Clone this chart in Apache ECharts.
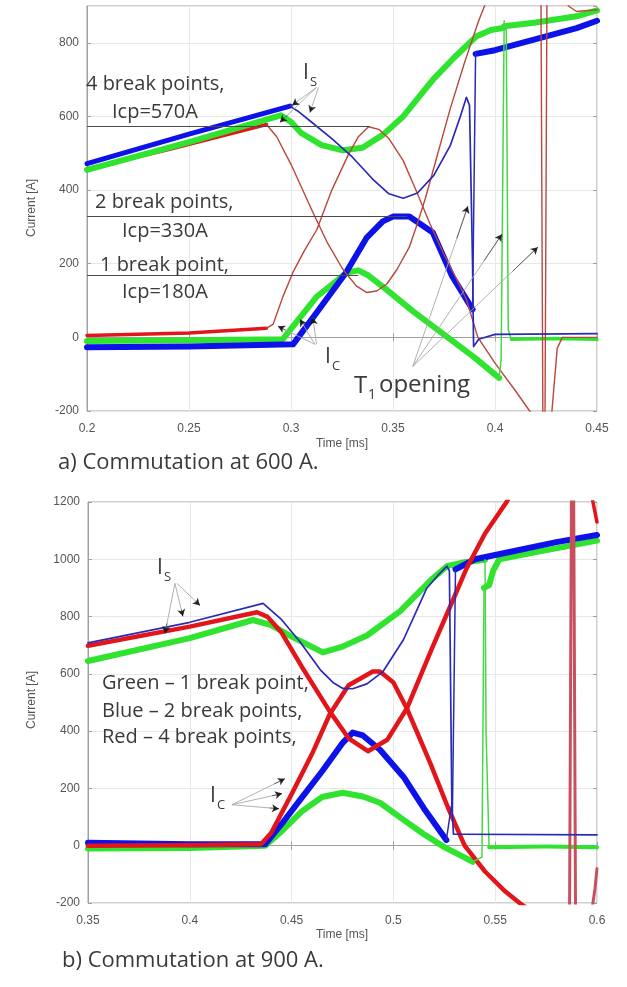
<!DOCTYPE html>
<html>
<head>
<meta charset="utf-8">
<script src="https://cdn.jsdelivr.net/npm/echarts@6/dist/echarts.min.js"></script>
<style>
html, body { margin: 0; padding: 0; background: #fff; }
#chart { width: 627px; height: 987px; }
</style>
</head>
<body>
<div id="chart"></div>
<script>
// ---------- (a) commutation at 600 A : [time ms, current A] ----------
const aRedSLeft = [[0.2, 458], [0.24, 510], [0.288, 578]];
const aRedS = [[0.288, 578], [0.293, 545], [0.3, 470], [0.3107, 340], [0.318, 255], [0.3254, 185], [0.332, 140], [0.337, 122], [0.342, 126], [0.347, 145], [0.352, 185], [0.358, 245], [0.362, 310], [0.366, 380], [0.372, 500], [0.378, 620], [0.385, 745], [0.392, 860], [0.397, 930], [0.4, 960], [0.4225, 960], [0.4235, -260], [0.427, -260], [0.4305, -30], [0.433, 0], [0.45, 0]];
const aRedCLeft = [[0.2, 5], [0.25, 12], [0.288, 25]];
const aRedC = [[0.288, 25], [0.2912, 35], [0.296, 110], [0.301, 177], [0.3065, 235], [0.3127, 293], [0.32, 400], [0.328, 495], [0.333, 545], [0.338, 572], [0.343, 565], [0.348, 540], [0.355, 480], [0.3617, 394], [0.368, 310], [0.375, 225], [0.381, 160], [0.386, 103], [0.3916, 0], [0.4, -70], [0.41, -145], [0.417, -200], [0.421, -225], [0.4245, -225], [0.4255, 960], [0.434, 960], [0.436, 900], [0.44, 885], [0.45, 890]];

const aGreenS = [[0.2, 455], [0.25, 530], [0.295, 603], [0.3, 585], [0.305, 555], [0.315, 522], [0.3254, 508], [0.335, 515], [0.345, 550], [0.355, 600], [0.3696, 700], [0.38, 760], [0.391, 818], [0.398, 835], [0.404, 840]];
const aGreenSDrop = [[0.404, 840], [0.4055, 850], [0.4065, 20], [0.408, -5]];
const aGreenSFlat = [[0.408, -5], [0.43, -3], [0.45, -5]];
const aGreenC = [[0.2, -10], [0.25, -8], [0.296, -5], [0.3127, 111], [0.3274, 176], [0.333, 182], [0.338, 168], [0.345, 138], [0.36, 70], [0.378, -5], [0.39, -55], [0.402, -110]];
const aGreenCJump = [[0.402, -110], [0.403, -60], [0.4045, 860]];
const aGreenTop = [[0.4045, 845], [0.42, 855], [0.44, 872], [0.45, 888]];

const aBlueSThick = [[0.2, 472], [0.25, 552], [0.2995, 628]];
const aBlueS = [[0.2995, 628], [0.304, 612], [0.31, 585], [0.32, 540], [0.33, 490], [0.34, 430], [0.348, 390], [0.355, 378], [0.362, 392], [0.37, 440], [0.378, 520], [0.383, 600], [0.386, 652], [0.3875, 630], [0.389, 200], [0.3895, -25], [0.392, -5], [0.4, 8], [0.45, 10]];
const aBlueC = [[0.2, -27], [0.25, -25], [0.301, -19], [0.3127, 68], [0.327, 176], [0.337, 270], [0.345, 315], [0.35, 328], [0.358, 328], [0.3695, 285], [0.379, 166], [0.386, 103], [0.389, 76]];
const aBlueCJump = [[0.389, 76], [0.3905, 775]];
const aBlueTop = [[0.3905, 770], [0.4, 780], [0.42, 810], [0.44, 840], [0.45, 860]];

// Icp reference lines: level drawn and where each line stops
const aIcpLevel = [573, 329, 168];
const aIcpStart = 0.2;
const aIcpEnd = [0.3387, 0.357, 0.333];

// leader arrows [fromT, fromI, toT, toI]
const aArrowsIs = [[0.3125, 679, 0.2946, 584], [0.3125, 679, 0.3005, 630], [0.3135, 679, 0.3093, 611]];
const aArrowsIc = [[0.3117, -19, 0.2936, 30], [0.3117, -19, 0.3044, 49], [0.3125, -19, 0.3107, 54]];
const aArrowsT1 = [[0.3597, -79, 0.3867, 356], [0.3597, -79, 0.4034, 280], [0.3597, -79, 0.421, 245]];

// ---------- (b) commutation at 900 A ----------
const bRedS = [[0.35, 698], [0.4, 765], [0.433, 815], [0.438, 800], [0.445, 745], [0.455, 625], [0.4688, 468], [0.478, 375], [0.4875, 330], [0.497, 370], [0.5066, 479], [0.519, 690], [0.53, 870], [0.536, 969], [0.545, 1090], [0.5556, 1200], [0.56, 1260], [0.586, 1300]];
const bRedC = [[0.35, 0], [0.4, 2], [0.435, 5], [0.44, 45], [0.45, 180], [0.46, 320], [0.4688, 460], [0.478, 560], [0.4899, 608], [0.4934, 608], [0.5, 570], [0.5066, 479], [0.512, 390], [0.518, 290], [0.527, 130], [0.535, 0], [0.545, -90], [0.555, -160], [0.562, -200], [0.57, -240], [0.582, -270]];
const bRedSpike = [[0.582, -270], [0.5865, -270], [0.5875, 1300], [0.5885, 1300], [0.5895, -300], [0.596, -300], [0.599, -150], [0.6, -80]];
const bRedTopRight = [[0.5955, 1300], [0.598, 1200], [0.6, 1130]];

const bGreenS = [[0.35, 645], [0.4, 725], [0.431, 788], [0.44, 770], [0.45, 730], [0.4654, 675], [0.475, 695], [0.487, 734], [0.5032, 818], [0.5194, 934], [0.5263, 976], [0.535, 990], [0.545, 998]];
const bGreenSDrop = [[0.545, 998], [0.5455, 400], [0.547, -5]];
const bGreenSFlat = [[0.547, -5], [0.575, -3], [0.6, -5]];
const bGreenC = [[0.35, -10], [0.4, -8], [0.437, 0], [0.445, 50], [0.455, 120], [0.465, 170], [0.475, 185], [0.485, 172], [0.4934, 150], [0.505, 90], [0.515, 40], [0.525, -5], [0.532, -30], [0.539, -56]];
const bGreenCJump = [[0.539, -56], [0.5435, -40], [0.5445, 900]];
const bGreenTop = [[0.5445, 900], [0.547, 910], [0.549, 960], [0.552, 1000], [0.57, 1025], [0.6, 1065]];

const bBlueS = [[0.35, 708], [0.4, 780], [0.436, 846], [0.445, 790], [0.454, 713], [0.464, 615], [0.4703, 570], [0.4752, 549], [0.48, 548], [0.487, 565], [0.4949, 608], [0.505, 720], [0.5164, 899], [0.522, 945], [0.5263, 976], [0.5275, 960], [0.5287, 150], [0.5295, 40], [0.535, 40], [0.6, 38]];
const bBlueC = [[0.35, 10], [0.4, 5], [0.437, 5], [0.445, 75], [0.455, 168], [0.465, 260], [0.4752, 360], [0.48, 395], [0.485, 385], [0.4934, 335], [0.505, 240], [0.515, 130], [0.526, 20]];
const bBlueCJump = [[0.526, 20], [0.5285, 140], [0.529, 120], [0.5305, 965]];
const bBlueTop = [[0.5305, 965], [0.54, 1000], [0.56, 1030], [0.58, 1060], [0.6, 1085]];

const bArrowsIs = [[0.3927, 916, 0.3878, 741], [0.3927, 916, 0.3966, 801], [0.3937, 916, 0.405, 839]];
const bArrowsIc = [[0.4207, 143, 0.4467, 234], [0.4207, 143, 0.4453, 182], [0.4207, 143, 0.4438, 129]];

// ---------- styling ----------
const C = {
  blue: '#0c12e8', blueThin: '#2a2ab8',
  green: '#2fe32f', greenThin: '#45d845',
  red: '#e2151a', redThin: '#b8473c', redSpike: '#c8505e',
  axis: '#a0a0a0', split: '#e8e8e8', tick: '#555', text: '#3a3a3a'
};
const TXT = '"Open Sans", "Noto Sans", sans-serif';

function line(data, g, color, width, z) {
  return {
    type: 'line', xAxisIndex: g, yAxisIndex: g, data: data,
    symbol: 'none', silent: true, animation: false, z: z || 2,
    lineStyle: { color: color, width: width, join: 'round', cap: 'round' }
  };
}

function arrows(list, g) {
  const full = list.map((a) => [{ coord: [a[0], a[1]] }, { coord: [a[2], a[3]] }]);
  const heads = list.map((a) => [
    { coord: [a[0] + 0.8 * (a[2] - a[0]), a[1] + 0.8 * (a[3] - a[1])] },
    { coord: [a[2], a[3]] }
  ]);
  return [
    {
      type: 'line', xAxisIndex: g, yAxisIndex: g, data: [], silent: true, animation: false, z: 5,
      markLine: { silent: true, animation: false, symbol: ['none', 'none'], label: { show: false },
        lineStyle: { color: '#a8a8a8', width: 0.9, type: 'solid' }, data: full }
    },
    {
      type: 'line', xAxisIndex: g, yAxisIndex: g, data: [], silent: true, animation: false, z: 6,
      markLine: { silent: true, animation: false, symbol: ['none', 'arrow'], symbolSize: [6, 7], label: { show: false },
        lineStyle: { color: '#111', width: 0.6, type: 'solid', opacity: 0.9 }, data: heads }
    }
  ];
}

function xAxis(g, min, max, top) {
  return {
    type: 'value', gridIndex: g, min: min, max: max, interval: 0.05, position: top ? 'top' : 'bottom',
    axisLine: { show: !top, lineStyle: { color: C.axis } },
    axisTick: { inside: true, length: 4, lineStyle: { color: C.axis } },
    axisLabel: { show: !top, color: C.tick, fontSize: 12, margin: 12, fontFamily: 'Liberation Sans',
      formatter: (v) => String(Number(v.toFixed(2))) },
    splitLine: { show: !top, lineStyle: { color: C.split } }
  };
}

function yAxis(g, min, max, showMax, right) {
  return {
    type: 'value', gridIndex: g, min: min, max: max, interval: 200, position: right ? 'right' : 'left',
    axisLine: { show: !right, lineStyle: { color: C.axis } },
    axisTick: { inside: true, length: 4, lineStyle: { color: C.axis } },
    axisLabel: { show: !right, color: C.tick, fontSize: 12, margin: 8, fontFamily: 'Liberation Sans',
      showMaxLabel: showMax, formatter: (v) => String(v) },
    splitLine: { show: !right, lineStyle: { color: C.split } }
  };
}

function text(str, x, y, size, extra) {
  return Object.assign({
    type: 'text', x: x, y: y, silent: true, z: 20,
    style: { text: str, fontSize: size, fontFamily: TXT, fill: C.text, align: 'left', verticalAlign: 'middle' }
  }, extra || {});
}

function plain(str, x, y, rotate) {
  return {
    type: 'text', x: x, y: y, silent: true, rotation: rotate ? Math.PI / 2 : 0,
    style: { text: str, fontSize: 12, fontFamily: 'Liberation Sans', fill: C.tick, align: 'center', verticalAlign: 'middle' }
  };
}

function subText(main, sub, x, y) {
  return [text(main, x, y, 21), text(sub, x + 7, y + 9, 13)];
}

const icpSeries = {
  type: 'line', xAxisIndex: 0, yAxisIndex: 0, data: [], silent: true, animation: false, z: 4,
  markLine: {
    silent: true, animation: false, symbol: ['none', 'none'], label: { show: false },
    lineStyle: { color: '#4a4a4a', width: 1, type: 'solid' },
    data: aIcpLevel.map((v, i) => [{ coord: [aIcpStart, v] }, { coord: [aIcpEnd[i], v] }])
  }
};

const chart = echarts.init(document.getElementById('chart'), null, { renderer: 'canvas' });

chart.setOption({
  animation: false,
  backgroundColor: '#fff',
  grid: [
    { left: 87, top: 6, width: 510, height: 405, show: true, borderColor: C.axis, borderWidth: 1 },
    { left: 88, top: 502, width: 509, height: 401, show: true, borderColor: C.axis, borderWidth: 1 }
  ],
  xAxis: [xAxis(0, 0.2, 0.45), xAxis(1, 0.35, 0.6), xAxis(0, 0.2, 0.45, true), xAxis(1, 0.35, 0.6, true)],
  yAxis: [yAxis(0, -200, 900, false), yAxis(1, -200, 1200, true), yAxis(0, -200, 900, false, true), yAxis(1, -200, 1200, false, true)],
  series: [
    // (a)
    line(aRedSLeft, 0, C.red, 3.5, 2),
    line(aRedCLeft, 0, C.red, 3.5, 2),
    line(aGreenS, 0, C.green, 6, 3),
    line(aGreenC, 0, C.green, 6, 3),
    line(aGreenTop, 0, C.green, 6, 3),
    line(aGreenSFlat, 0, C.green, 3.5, 3),
    line(aBlueSThick, 0, C.blue, 5, 3),
    line(aBlueC, 0, C.blue, 6, 3),
    line(aBlueTop, 0, C.blue, 6, 3),
    line(aRedS, 0, C.redThin, 1.4, 4),
    line(aRedC, 0, C.redThin, 1.4, 4),
    line(aGreenSDrop, 0, C.greenThin, 1.5, 4),
    line(aGreenCJump, 0, C.greenThin, 1.5, 4),
    line(aBlueS, 0, C.blueThin, 1.7, 4),
    line(aBlueCJump, 0, C.blueThin, 1.5, 4),
    icpSeries,
    ...arrows(aArrowsIs, 0),
    ...arrows(aArrowsIc, 0),
    ...arrows(aArrowsT1, 0),
    // (b)
    line(bGreenS, 1, C.green, 6, 3),
    line(bGreenC, 1, C.green, 6, 3),
    line(bGreenTop, 1, C.green, 6, 3),
    line(bGreenSFlat, 1, C.green, 4, 3),
    line(bBlueC, 1, C.blue, 6, 3),
    line(bBlueTop, 1, C.blue, 6, 3),
    line(bRedS, 1, C.red, 4.5, 3),
    line(bRedC, 1, C.red, 4.5, 3),
    line(bRedSpike, 1, C.redSpike, 3, 3),
    line(bRedTopRight, 1, C.red, 3.5, 3),
    line(bGreenSDrop, 1, C.greenThin, 1.5, 4),
    line(bGreenCJump, 1, C.greenThin, 1.5, 4),
    line(bBlueS, 1, C.blueThin, 1.7, 4),
    line(bBlueCJump, 1, C.blueThin, 1.5, 4),
    ...arrows(bArrowsIs, 1),
    ...arrows(bArrowsIc, 1)
  ],
  graphic: {
    elements: [
      text('4 break points,', 86, 84, 20),
      text('Icp=570A', 112, 112, 20),
      text('2 break points,', 95, 202, 20),
      text('Icp=330A', 122, 231, 20),
      text('1 break point,', 100, 265, 20),
      text('Icp=180A', 122, 292, 20),
      ...subText('I', 'S', 303, 73),
      ...subText('I', 'C', 325, 357),
      text('T', 354, 386, 24),
      text('1', 368, 395, 14),
      text('opening', 379, 385, 24),
      plain('Time [ms]', 342, 444),
      plain('Current [A]', 32, 208, true),
      text('a) Commutation at 600 A.', 58, 463, 22),
      ...subText('I', 'S', 157, 568),
      text('Green \u2013 1 break point,', 102, 683, 20),
      text('Blue \u2013 2 break points,', 102, 711, 20),
      text('Red \u2013 4 break points,', 102, 737, 20),
      ...subText('I', 'C', 210, 796),
      plain('Time [ms]', 342, 935),
      plain('Current [A]', 32, 700, true),
      text('b) Commutation at 900 A.', 62, 961, 22)
    ]
  }
});
</script>
</body>
</html>
